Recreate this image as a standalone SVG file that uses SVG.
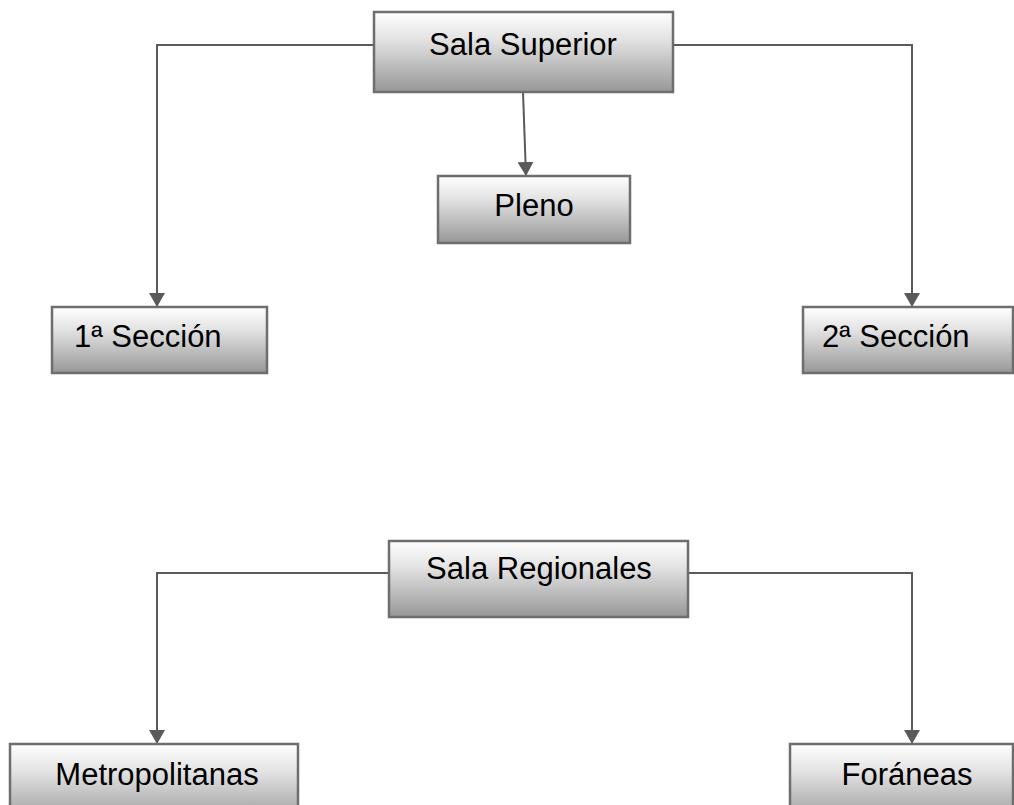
<svg xmlns="http://www.w3.org/2000/svg" width="1014" height="805" viewBox="0 0 1014 805">
  <defs>
    <linearGradient id="boxFill" x1="0" y1="0" x2="0" y2="1">
      <stop offset="0" stop-color="#ffffff"/>
      <stop offset="0.35" stop-color="#e2e2e2"/>
      <stop offset="1" stop-color="#979797"/>
    </linearGradient>
    <marker id="arrow" viewBox="0 0 14 16" refX="14" refY="8" markerWidth="14" markerHeight="16" markerUnits="userSpaceOnUse" orient="auto">
      <path d="M0,0 L14,8 L0,16 Z" fill="#5a5a5a"/>
    </marker>
  </defs>
  <style>
    .box { fill: url(#boxFill); stroke: #6e6e6e; stroke-width: 2.5; }
    .label { font-family: "Liberation Sans", Arial, sans-serif; font-size: 31px; fill: #000; }
    .link { fill: none; stroke: #5a5a5a; stroke-width: 2; }
  </style>
  <rect width="1014" height="805" fill="#ffffff"/>

  <!-- connectors -->
  <g id="connectors">
    <polyline class="link" points="374,45 157,45 157,307" marker-end="url(#arrow)"/>
    <polyline class="link" points="673,45 912,45 912,307" marker-end="url(#arrow)"/>
    <line class="link" x1="523" y1="92" x2="526" y2="176" marker-end="url(#arrow)"/>
    <polyline class="link" points="389,573 157,573 157,744" marker-end="url(#arrow)"/>
    <polyline class="link" points="688,573 912,573 912,744" marker-end="url(#arrow)"/>
  </g>

  <!-- nodes -->
  <g id="sala-superior">
    <rect class="box" x="374" y="12" width="299" height="80"/>
    <text class="label" x="523" y="55" text-anchor="middle">Sala Superior</text>
  </g>
  <g id="pleno">
    <rect class="box" x="438" y="176" width="192" height="67"/>
    <text class="label" x="534" y="216" text-anchor="middle">Pleno</text>
  </g>
  <g id="seccion-1">
    <rect class="box" x="52" y="307" width="215" height="66"/>
    <text class="label" x="74" y="347">1ª Sección</text>
  </g>
  <g id="seccion-2">
    <rect class="box" x="803" y="307" width="210" height="66"/>
    <text class="label" x="822" y="347">2ª Sección</text>
  </g>
  <g id="sala-regionales">
    <rect class="box" x="389" y="541" width="299" height="76"/>
    <text class="label" x="539" y="579" text-anchor="middle">Sala Regionales</text>
  </g>
  <g id="metropolitanas">
    <rect class="box" x="10" y="744" width="288" height="80"/>
    <text class="label" x="157" y="785" text-anchor="middle">Metropolitanas</text>
  </g>
  <g id="foraneas">
    <rect class="box" x="790" y="744" width="223" height="80"/>
    <text class="label" x="907" y="785" text-anchor="middle">Foráneas</text>
  </g>
</svg>
